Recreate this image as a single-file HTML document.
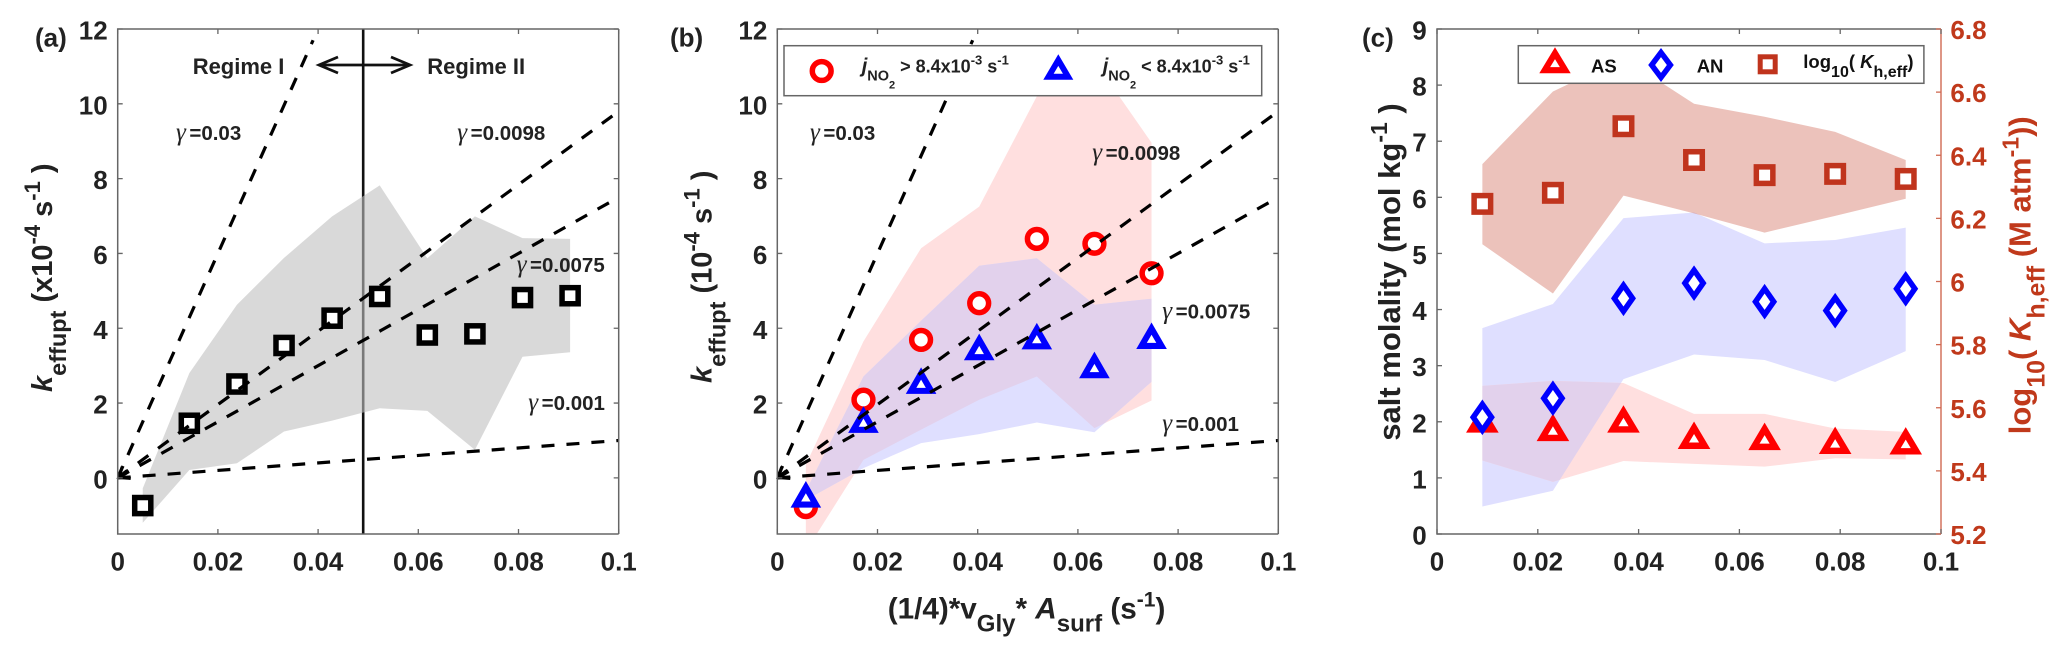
<!DOCTYPE html>
<html>
<head>
<meta charset="utf-8">
<title>Effective uptake charts</title>
<style>
html,body{margin:0;padding:0;background:#fff;}
svg{display:block;font-family:"Liberation Sans",sans-serif;font-weight:bold;}
.tick{font-size:26px;fill:#222;}
.title{font-size:29px;fill:#222;}
.gam{font-size:20.5px;fill:#222;}
.gs{font-family:"Liberation Serif",serif;font-weight:normal;font-style:italic;font-size:25px;letter-spacing:3.5px;}
</style>
</head>
<body>
<svg id="fig" xmlns="http://www.w3.org/2000/svg" width="2067" height="657" viewBox="0 0 2067 657">
  <defs>
    <clipPath id="clipA"><rect x="117.7" y="29" width="501" height="505"/></clipPath>
    <clipPath id="clipB"><rect x="777.3" y="29" width="501" height="505"/></clipPath>
    <clipPath id="clipC"><rect x="1437" y="29" width="504" height="505"/></clipPath>
  </defs>
  <g id="panelA"></g>
  <g id="panelB"></g>
  <g id="panelC"></g>

  <text x="35" y="46.7" font-size="26" fill="#222">(a)</text>
  <text x="670" y="46.7" font-size="26" fill="#222">(b)</text>
  <text x="1362" y="46.7" font-size="26" fill="#222">(c)</text>

  <text class="title" transform="translate(52,392) rotate(-90)"><tspan font-style="italic">k</tspan><tspan font-size="23.5" dy="14">effupt</tspan><tspan dy="-14"> (x10</tspan><tspan font-size="22" dy="-12">-4</tspan><tspan dy="12"> s</tspan><tspan font-size="22" dy="-12">-1</tspan><tspan dy="12"> )</tspan></text>
  <text class="title" transform="translate(711.7,383) rotate(-90)"><tspan font-style="italic">k</tspan><tspan font-size="23.5" dy="14">effupt</tspan><tspan dy="-14"> (10</tspan><tspan font-size="22" dy="-12">-4</tspan><tspan dy="12"> s</tspan><tspan font-size="22" dy="-12">-1</tspan><tspan dy="12"> )</tspan></text>
  <text class="title" transform="translate(1400,440.7) rotate(-90)" style="font-size:31px">salt molality (mol kg<tspan font-size="23" dy="-13">-1</tspan><tspan dy="13"> )</tspan></text>
  <text transform="translate(2030.7,434.3) rotate(-90)" font-size="31" fill="#c0391b">log<tspan font-size="25" dy="14">10</tspan><tspan dy="-14">( </tspan><tspan font-style="italic">K</tspan><tspan font-size="25" dy="14">h,eff</tspan><tspan dy="-14"> (M atm</tspan><tspan font-size="23" dy="-12">-1</tspan><tspan dy="12">))</tspan></text>
  <text class="title" style="font-size:29.7px" x="887.7" y="618.3">(1/4)*v<tspan font-size="24" dy="13">Gly</tspan><tspan dy="-13">* </tspan><tspan font-style="italic">A</tspan><tspan font-size="24" dy="13">surf</tspan><tspan dy="-13"> (s</tspan><tspan font-size="21" dy="-12">-1</tspan><tspan dy="12">)</tspan></text>

  <g id="overlay">
    <text x="192.7" y="74" font-size="22" fill="#222">Regime I</text>
    <text x="427.3" y="74" font-size="22" fill="#222">Regime II</text>
    <g stroke="#111" stroke-width="2.8" fill="none">
      <line x1="319" y1="65" x2="410" y2="65"/>
      <polyline points="338,57 319,65 338,73"/>
      <polyline points="391,57 410,65 391,73"/>
    </g>
    <text class="gam" x="176" y="140"><tspan class="gs">γ</tspan>=0.03</text>
    <text class="gam" x="457.3" y="140"><tspan class="gs">γ</tspan>=0.0098</text>
    <text class="gam" x="516.7" y="272"><tspan class="gs">γ</tspan>=0.0075</text>
    <text class="gam" x="528.3" y="410"><tspan class="gs">γ</tspan>=0.001</text>
    <text class="gam" x="810" y="140"><tspan class="gs">γ</tspan>=0.03</text>
    <text class="gam" x="1092.3" y="160"><tspan class="gs">γ</tspan>=0.0098</text>
    <text class="gam" x="1162.3" y="318.3"><tspan class="gs">γ</tspan>=0.0075</text>
    <text class="gam" x="1162.3" y="431"><tspan class="gs">γ</tspan>=0.001</text>
  </g>

  <g id="legendB">
    <rect x="784" y="45.7" width="477.7" height="50" fill="#fff" stroke="#666" stroke-width="1.5"/>
    <text x="861.7" y="72.7" font-size="18" fill="#222"><tspan font-style="italic" font-size="20">j</tspan><tspan font-size="14.5" dy="8">NO</tspan><tspan font-size="11" dy="8">2</tspan><tspan dy="-16"> &gt; 8.4x10</tspan><tspan font-size="13" dy="-8">-3</tspan><tspan dy="8"> s</tspan><tspan font-size="13" dy="-8">-1</tspan></text>
    <text x="1102.7" y="72.7" font-size="18" fill="#222"><tspan font-style="italic" font-size="20">j</tspan><tspan font-size="14.5" dy="8">NO</tspan><tspan font-size="11" dy="8">2</tspan><tspan dy="-16"> &lt; 8.4x10</tspan><tspan font-size="13" dy="-8">-3</tspan><tspan dy="8"> s</tspan><tspan font-size="13" dy="-8">-1</tspan></text>
  </g>
  <g id="legendC">
    <rect x="1518.3" y="45.7" width="405.6" height="37.6" fill="#fff" stroke="#666" stroke-width="1.5"/>
    <text x="1591" y="72.3" font-size="18.5" fill="#111">AS</text>
    <text x="1696.7" y="72.3" font-size="18.5" fill="#111">AN</text>
    <text x="1803.3" y="68" font-size="18.5" fill="#111">log<tspan font-size="16" dy="9">10</tspan><tspan dy="-9">( </tspan><tspan font-style="italic">K</tspan><tspan font-size="16" dy="9">h,eff</tspan><tspan dy="-9">)</tspan></text>
  </g>
</svg>

<script>
// ---------- shared axis labels ----------
var xTicks = [0, 0.02, 0.04, 0.06, 0.08, 0.1];
var xTickLabels = ['0', '0.02', '0.04', '0.06', '0.08', '0.1'];
var kTicks = [0, 2, 4, 6, 8, 10, 12];
var kTickLabels = ['0', '2', '4', '6', '8', '10', '12'];
var molalityTicks = [0, 1, 2, 3, 4, 5, 6, 7, 8, 9];
var molalityTickLabels = ['0', '1', '2', '3', '4', '5', '6', '7', '8', '9'];
var logKTicks = [5.2, 5.4, 5.6, 5.8, 6, 6.2, 6.4, 6.6, 6.8];
var logKTickLabels = ['5.2', '5.4', '5.6', '5.8', '6', '6.2', '6.4', '6.6', '6.8'];

// ---------- reference lines ----------
var gammaValues = [0.03, 0.0098, 0.0075, 0.001];
var gammaEndX = [0.039, 0.1, 0.1, 0.1];
var regimeBoundaryX = 0.049;

// ---------- panel (a) ----------
var aX = [0.005, 0.0143, 0.0238, 0.0332, 0.0428, 0.0523, 0.0618, 0.0713, 0.0808, 0.0903];
var aY = [-0.74, 1.46, 2.51, 3.54, 4.27, 4.85, 3.82, 3.85, 4.82, 4.87];
var aUpper = [-0.28, 2.8, 4.63, 5.88, 6.99, 7.82, 5.87, 6.99, 6.41, 6.39];
var aLower = [-1.2, 0.21, 0.39, 1.24, 1.53, 1.86, 1.79, 0.75, 3.24, 3.36];

// ---------- panel (b) ----------
var bX = [0.0057, 0.0172, 0.0287, 0.0403, 0.0518, 0.0633, 0.0747];
var bHighY = [-0.78, 2.09, 3.69, 4.67, 6.39, 6.26, 5.47];
var bHighUpper = [0.35, 3.65, 6.14, 7.25, 10.2, 11.15, 8.96];
var bHighLower = [-1.96, 0.48, 1.29, 2.09, 2.71, 1.33, 2.07];
var bLowY = [-0.44, 1.56, 2.6, 3.5, 3.79, 3.02, 3.8];
var bLowUpper = [-0.35, 2.71, 4.2, 5.67, 5.87, 4.63, 4.79];
var bLowLower = [-0.59, 0.26, 0.93, 1.17, 1.48, 1.22, 2.57];

// ---------- panel (c) ----------
var cX = [0.009, 0.023, 0.037, 0.051, 0.065, 0.079, 0.093];
var asY = [2.05, 1.9, 2.05, 1.76, 1.74, 1.67, 1.66];
var asUpper = [2.64, 2.73, 2.69, 2.14, 2.14, 1.88, 1.82];
var asLower = [1.31, 0.93, 1.3, 1.25, 1.2, 1.35, 1.33];
var anY = [2.08, 2.42, 4.2, 4.47, 4.14, 3.98, 4.37];
var anUpper = [3.67, 4.1, 5.63, 5.73, 5.18, 5.24, 5.46];
var anLower = [0.49, 0.77, 2.76, 3.2, 3.1, 2.71, 3.26];
var logKY = [6.246, 6.281, 6.492, 6.385, 6.337, 6.341, 6.325];
var logKUpper = [6.372, 6.602, 6.708, 6.563, 6.522, 6.474, 6.385];
var logKLower = [6.118, 5.962, 6.272, 6.216, 6.155, 6.208, 6.262];

var NS = 'http://www.w3.org/2000/svg';
var RED = '#ff0000', BLUE = '#0000ff', BROWN = '#c0341d', INK = '#222';
var uid = 0;

function mk(tag, attrs, parent) {
  var n = document.createElementNS(NS, tag);
  for (var k in attrs) n.setAttribute(k, attrs[k]);
  parent.appendChild(n);
  return n;
}
function linear(d0, d1, r0, r1) {
  return function (v) { return r0 + (v - d0) * (r1 - r0) / (d1 - d0); };
}
function bandPoints(xs, up, lo, sx, sy) {
  var p = [];
  for (var i = 0; i < xs.length; i++) p.push(sx(xs[i]) + ',' + sy(up[i]));
  for (var j = xs.length - 1; j >= 0; j--) p.push(sx(xs[j]) + ',' + sy(lo[j]));
  return p.join(' ');
}
function band(parent, xs, up, lo, sx, sy, fill, opacity, clip, name) {
  var n = mk('polygon', {points: bandPoints(xs, up, lo, sx, sy), fill: fill, 'fill-opacity': opacity, 'clip-path': 'url(#' + clip + ')'}, parent);
  
  
  return n;
}
// Overlap of two bands painted in its own colour
function overlap(parent, xs1, up1, lo1, sy1, xs2, up2, lo2, sy2, sx, fill, clip) {
  var id = 'ov' + (++uid);
  var defs = mk('clipPath', {id: id}, parent);
  mk('polygon', {points: bandPoints(xs1, up1, lo1, sx, sy1)}, defs);
  var wrap = mk('g', {'clip-path': 'url(#' + clip + ')'}, parent);
  var n = mk('polygon', {points: bandPoints(xs2, up2, lo2, sx, sy2), fill: fill, 'clip-path': 'url(#' + id + ')'}, wrap);
  
  
}
function square(parent, x, y, half, sw, color) {
  var r = half - sw / 2;
  var n = mk('rect', {x: x - r, y: y - r, width: 2 * r, height: 2 * r, fill: '#fff', stroke: color, 'stroke-width': sw}, parent);
  
  
}
function circle(parent, x, y, color) {
  var n = mk('circle', {cx: x, cy: y, r: 9.4, fill: '#fff', stroke: color, 'stroke-width': 5.5}, parent);
  
  
}
function triangle(parent, x, y, hw, hh, color) {
  var g = mk('g', {}, parent);
  
  
  mk('polygon', {points: x + ',' + (y - hh) + ' ' + (x + hw) + ',' + (y + hh) + ' ' + (x - hw) + ',' + (y + hh), fill: color}, g);
  var side = Math.sqrt(hw * hw + 4 * hh * hh);
  var inr = hw * 2 * hh / (hw + side);
  var cy = y + hh - inr, s = 0.31;
  mk('polygon', {points: x + ',' + (cy - (cy - y + hh) * s) + ' ' + (x + hw * s) + ',' + (cy + inr * s) + ' ' + (x - hw * s) + ',' + (cy + inr * s), fill: '#fff'}, g);
}
function diamond(parent, x, y, hw, hh, color) {
  var g = mk('g', {}, parent);
  
  
  mk('polygon', {points: x + ',' + (y - hh) + ' ' + (x + hw) + ',' + y + ' ' + x + ',' + (y + hh) + ' ' + (x - hw) + ',' + y, fill: color}, g);
  var s = 0.46;
  mk('polygon', {points: x + ',' + (y - hh * s) + ' ' + (x + hw * s) + ',' + y + ' ' + x + ',' + (y + hh * s) + ' ' + (x - hw * s) + ',' + y, fill: '#fff'}, g);
}
function axesFrame(parent, left, right, top, bottom) {
  var n = mk('path', {d: 'M' + right + ' ' + top + 'H' + left + 'V' + bottom + 'H' + right, fill: 'none', stroke: '#666', 'stroke-width': 1.5}, parent);
  
  
}
function xAxis(parent, sx, top, bottom) {
  xTicks.forEach(function (t, i) {
    var x = sx(t);
    mk('path', {d: 'M' + x + ' ' + bottom + 'v-5M' + x + ' ' + top + 'v5', stroke: '#666', 'stroke-width': 1.3, fill: 'none'}, parent);
    var lab = mk('text', {x: x, y: 570.7, 'text-anchor': 'middle', 'class': 'tick'}, parent);
    lab.textContent = xTickLabels[i];
    
    
  });
}
function yAxis(parent, sy, ticks, labels, left, right, labelRight, drawRightTicks) {
  ticks.forEach(function (t, i) {
    var y = sy(t);
    mk('path', {d: 'M' + left + ' ' + y + 'h5' + (drawRightTicks ? 'M' + right + ' ' + y + 'h-5' : ''), stroke: '#666', 'stroke-width': 1.3, fill: 'none'}, parent);
    var lab = mk('text', {x: labelRight, y: y + 10.5, 'text-anchor': 'end', 'class': 'tick'}, parent);
    lab.textContent = labels[i];
    
    
  });
}
function gammaLines(parent, sx, sy, clip) {
  var g = mk('g', {'clip-path': 'url(#' + clip + ')'}, parent);
  
  
  gammaValues.forEach(function (gm, i) {
    var xe = gammaEndX[i];
    var n = mk('line', {x1: sx(0), y1: sy(0), x2: sx(xe), y2: sy(gm * xe * 10000), stroke: '#000', 'stroke-width': 3.2, 'stroke-dasharray': '13 12'}, g);
    
    
  });
  var ox = sx(0), oy = sy(0);
  var a = mk('path', {d: 'M' + (ox + 4.5) + ' ' + (oy - 11) + 'L' + (ox + 1) + ' ' + (oy - 0.5) + 'L' + (ox + 13) + ' ' + (oy + 0.5) + 'M' + (ox + 1) + ' ' + (oy - 0.5) + 'L' + (ox + 9) + ' ' + (oy - 7), stroke: '#000', 'stroke-width': 3.2, fill: 'none'}, parent);
  
  
}

// ---------- draw panel (a) ----------
(function () {
  var p = document.getElementById('panelA');
  var L = 117.7, R = 618.7, T = 29, B = 534;
  var sx = linear(0, 0.1, L, R), sy = linear(-1.5, 12, B, T);
  var v = mk('line', {x1: sx(regimeBoundaryX), x2: sx(regimeBoundaryX), y1: T, y2: B, stroke: '#111', 'stroke-width': 2.6}, p);
  
  
  band(p, aX, aUpper, aLower, sx, sy, '#c0c0c0', 0.6, 'clipA', 'uptake-range-band');
  aX.forEach(function (x, i) { square(p, sx(x), sy(aY[i]), 10.8, 5.5, '#000'); });
  gammaLines(p, sx, sy, 'clipA');
  axesFrame(p, L, R, T, B);
  mk('path', {d: 'M' + R + ' ' + T + 'V' + B, stroke: '#666', 'stroke-width': 1.5}, p);
  xAxis(p, sx, T, B);
  yAxis(p, sy, kTicks, kTickLabels, L, R, 107.7, true);
})();

// ---------- draw panel (b) ----------
(function () {
  var p = document.getElementById('panelB');
  var L = 777.3, R = 1278.3, T = 29, B = 534;
  var sx = linear(0, 0.1, L, R), sy = linear(-1.5, 12, B, T);
  band(p, bX, bHighUpper, bHighLower, sx, sy, '#ffdfdf', 1, 'clipB', 'high-jno2-band');
  band(p, bX, bLowUpper, bLowLower, sx, sy, '#dfdfff', 1, 'clipB', 'low-jno2-band');
  overlap(p, bX, bHighUpper, bHighLower, sy, bX, bLowUpper, bLowLower, sy, sx, '#e2d1ec', 'clipB');
  bX.forEach(function (x, i) { circle(p, sx(x), sy(bHighY[i]), RED); });
  bX.forEach(function (x, i) { triangle(p, sx(x), sy(bLowY[i]), 15.3, 13.3, BLUE); });
  gammaLines(p, sx, sy, 'clipB');
  axesFrame(p, L, R, T, B);
  mk('path', {d: 'M' + R + ' ' + T + 'V' + B, stroke: '#666', 'stroke-width': 1.5}, p);
  xAxis(p, sx, T, B);
  yAxis(p, sy, kTicks, kTickLabels, L, R, 767.3, true);
})();

// ---------- draw panel (c) ----------
(function () {
  var p = document.getElementById('panelC');
  var L = 1437, R = 1941, T = 29, B = 534;
  var sx = linear(0, 0.1, L, R), sy = linear(0, 9, B, T), sy2 = linear(5.2, 6.8, B, T);
  band(p, cX, anUpper, anLower, sx, sy, '#dfdfff', 1, 'clipC', 'an-band');
  band(p, cX, asUpper, asLower, sx, sy, '#ffdfdf', 1, 'clipC', 'as-band');
  overlap(p, cX, anUpper, anLower, sy, cX, asUpper, asLower, sy, sx, '#e2d1ec', 'clipC');
  band(p, cX, logKUpper, logKLower, sx, sy2, BROWN, 0.3, 'clipC', 'log-kh-band');
  cX.forEach(function (x, i) { triangle(p, sx(x), sy(asY[i]), 16.3, 13.7, RED); });
  cX.forEach(function (x, i) { diamond(p, sx(x), sy(anY[i]), 12.5, 17.8, BLUE); });
  cX.forEach(function (x, i) { square(p, sx(x), sy2(logKY[i]), 11, 5.5, BROWN); });
  axesFrame(p, L, R, T, B);
  var rs = mk('line', {x1: R, x2: R, y1: T, y2: B, stroke: '#cf6a52', 'stroke-width': 1.4}, p);
  
  
  xAxis(p, sx, T, B);
  yAxis(p, sy, molalityTicks, molalityTickLabels, L, R, 1426.7, false);
  logKTicks.forEach(function (t, i) {
    var y = sy2(t);
    mk('path', {d: 'M' + R + ' ' + y + 'h-5', stroke: '#cf6a52', 'stroke-width': 1.3}, p);
    var lab = mk('text', {x: 1950.4, y: y + 10, 'font-size': 26, fill: '#c0391b'}, p);
    lab.textContent = logKTickLabels[i];
    
    
  });
})();

// ---------- layer order and legend markers ----------
(function () {
  var svg = document.getElementById('fig');
  var lb = document.getElementById('legendB'), lc = document.getElementById('legendC');
  svg.appendChild(document.getElementById('overlay'));
  svg.appendChild(lb);
  svg.appendChild(lc);
  circle(lb, 821.7, 71, RED);
  triangle(lb, 1058.3, 67, 15, 12.7, BLUE);
  triangle(lc, 1555, 60.3, 15.7, 13, RED);
  diamond(lc, 1661, 65, 12.8, 17, BLUE);
  square(lc, 1767.7, 64.3, 10, 5, BROWN);
})();
</script>
</body>
</html>
